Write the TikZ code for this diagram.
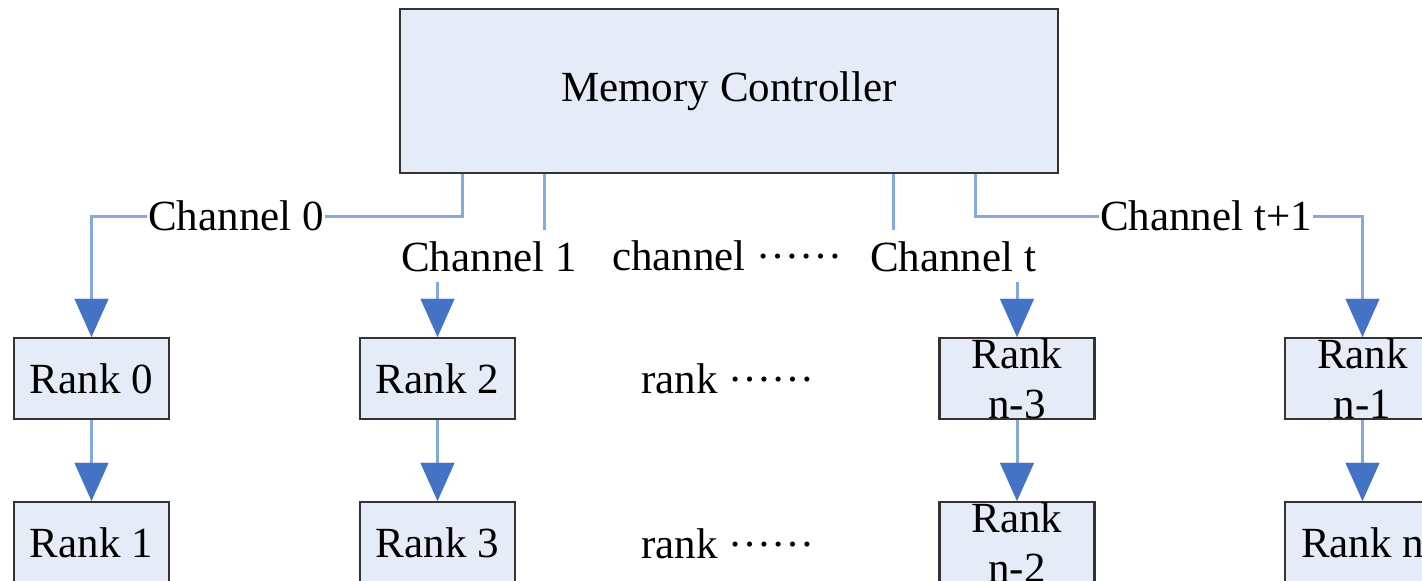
\documentclass[tikz,border=0pt]{standalone}
\usepackage{fontspec}
\setmainfont{Liberation Serif}
\usetikzlibrary{arrows.meta}
\definecolor{boxfill}{HTML}{E6ECF7}
\definecolor{boxline}{HTML}{333333}
\definecolor{connblue}{HTML}{84A9DB}
\definecolor{arrowblue}{HTML}{4472C4}
\newcommand{\middots}{\raisebox{12pt}{……}}
\tikzset{
  txt/.style={font=\fontsize{43}{50}\selectfont, text=black},
  box/.style={txt, draw=boxline, line width=2.2pt, fill=boxfill, inner sep=0pt, align=center},
  rankbox/.style={box, minimum width=155pt, minimum height=81pt},
  conn/.style={draw=connblue, line width=3pt},
  arr/.style={-{Triangle[width=34pt,length=38pt,color=arrowblue,fill=arrowblue,line width=0.01pt]}},
  lbl/.style={txt, fill=white, inner sep=1pt},
  plain/.style={txt, inner sep=0pt}
}
\begin{document}
\begin{tikzpicture}[x=1pt,y=-1pt]
\useasboundingbox (0,0) rectangle (1422,581);
\clip (0,0) rectangle (1422,581);
\fill[white] (0,0) rectangle (1422,581);

% Memory controller
\node[box, minimum width=658pt, minimum height=164pt] (mc) at (729,91) {\raisebox{-3pt}{Memory Controller}};

% Rank boxes
\node[rankbox] (r0) at (91.5,378.5) {Rank 0};
\node[rankbox] (r2) at (437.5,378.5) {Rank 2};
\node[rankbox] (rn3) at (1017,378.5) {Rank\\n-3};
\node[rankbox] (rn1) at (1362.5,378.5) {Rank\\n-1};
\node[rankbox] (r1) at (91.5,542.5) {Rank 1};
\node[rankbox] (r3) at (437.5,542.5) {Rank 3};
\node[rankbox] (rn2) at (1017,542.5) {Rank\\n-2};
\node[rankbox] (rn) at (1362.5,542.5) {Rank n};

% connector endpoints on the controller
\coordinate (p0) at (462,174);
\coordinate (p1) at (544,174);
\coordinate (pt) at (893,174);
\coordinate (pt1) at (975,174);
\coordinate (e1) at (544,230);
\coordinate (et) at (893,230);
\coordinate (a1) at (437.5,282);
\coordinate (at) at (1017,282);

% Channel 0
\draw[conn, arr] (p0) -- (462,216) -| node[lbl, pos=0.305] {Channel 0} (r0.north);
% Channel 1
\draw[conn] (p1) -- (e1);
\node[plain] (ch1) at (489,257) {Channel 1};
\draw[conn, arr] (a1) -- (r2.north);
% Channel t
\draw[conn] (pt) -- (et);
\node[plain] (cht) at (953,257) {Channel t};
\draw[conn, arr] (at) -- (rn3.north);
% Channel t+1
\draw[conn, arr] (pt1) -- (975,216) -| node[lbl, pos=0.298] {Channel t+1} (rn1.north);

% middle labels
\node[plain, anchor=base west] (chd) at (612,270) {channel \middots};
\node[plain, anchor=base west] (rkd1) at (641,393) {rank \middots};
\node[plain, anchor=base west] (rkd2) at (641,558) {rank \middots};

% rank to rank
\draw[conn, arr] (r0.south) -- (r1.north);
\draw[conn, arr] (r2.south) -- (r3.north);
\draw[conn, arr] (rn3.south) -- (rn2.north);
\draw[conn, arr] (rn1.south) -- (rn.north);
\end{tikzpicture}
\end{document}
